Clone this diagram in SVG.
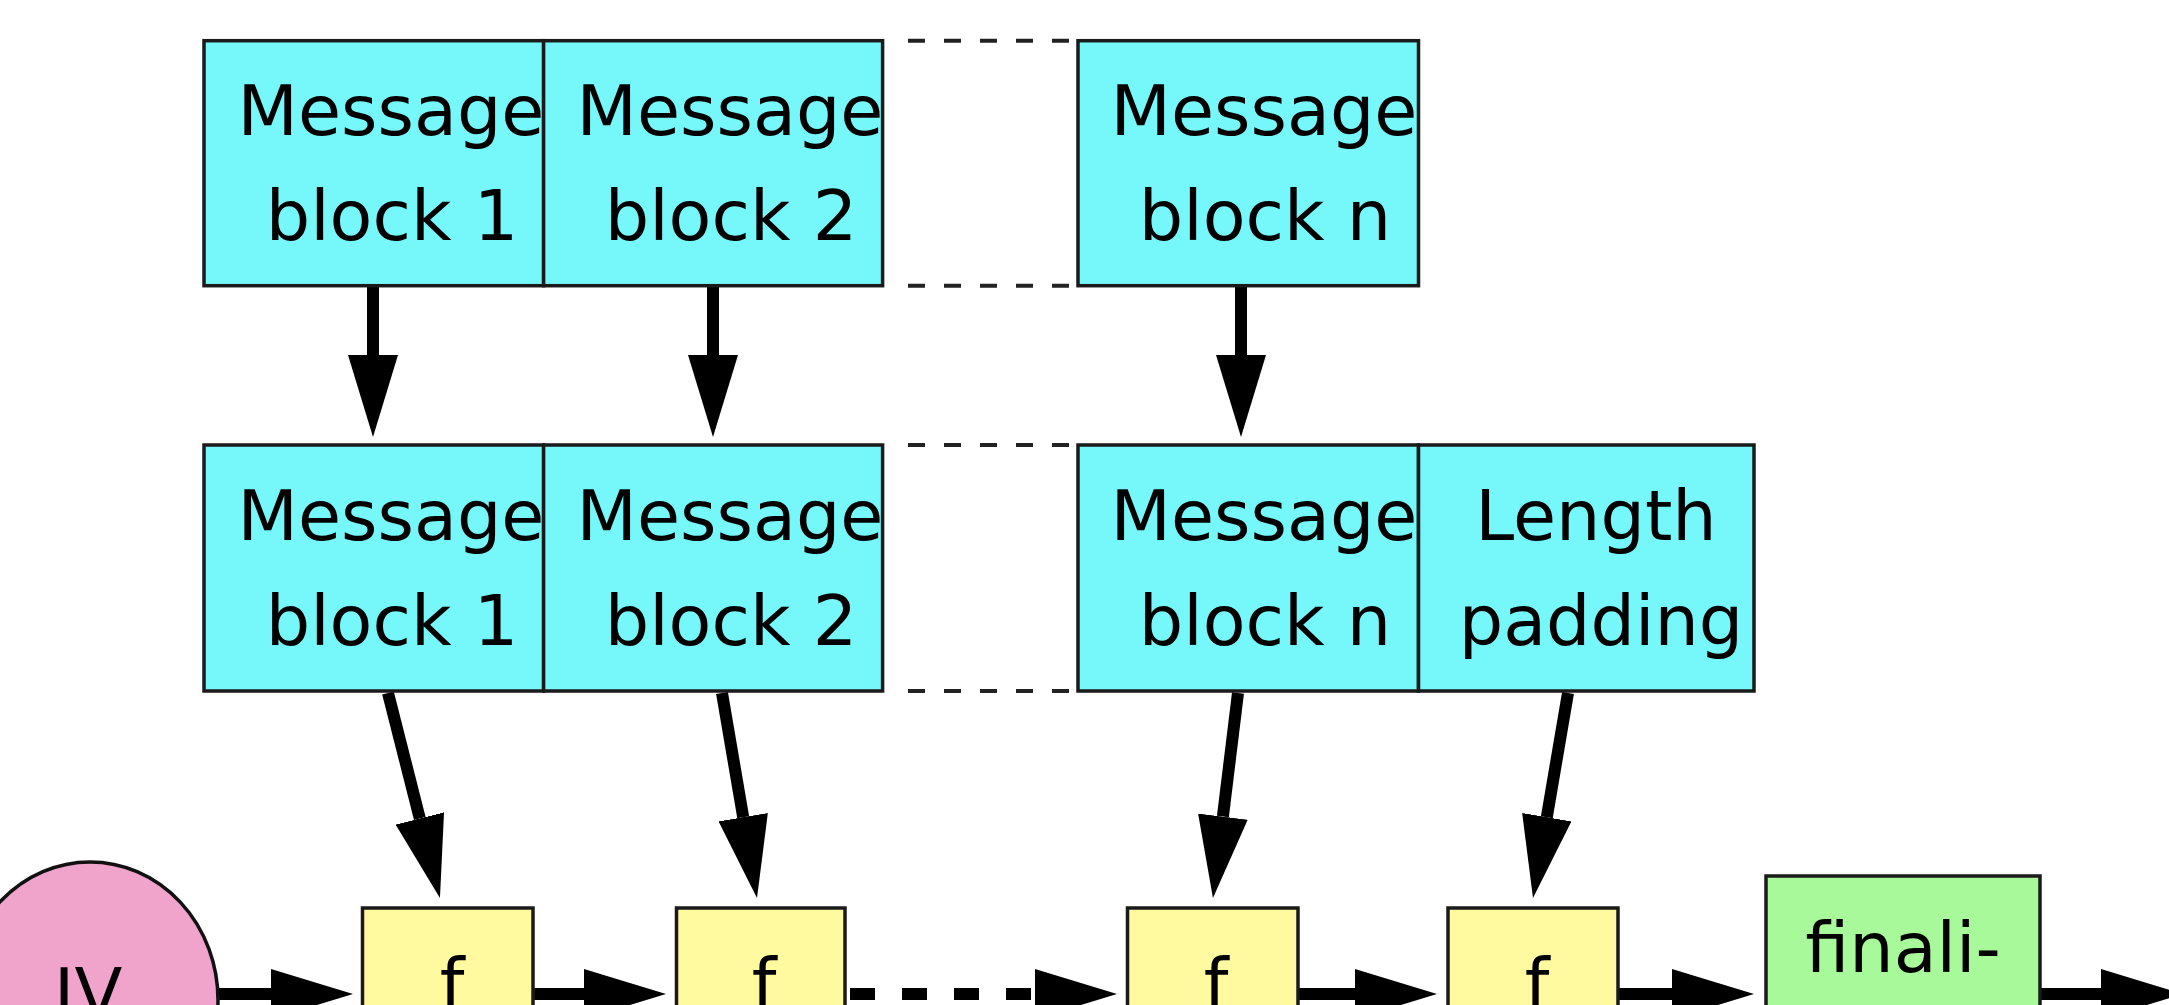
<svg xmlns="http://www.w3.org/2000/svg" width="2169" height="1005" viewBox="0 0 2169 1005">
<style>
.blk{fill:#76f8fb;stroke:#1a1a1a;stroke-width:3.5}
.fbox{fill:#fff9a0;stroke:#1a1a1a;stroke-width:3.5}
.fin{fill:#a8f99a;stroke:#1a1a1a;stroke-width:3.5}
.iv{fill:#f0a3cb;stroke:#111;stroke-width:3.5}
.t{font-family:"DejaVu Sans","Liberation Sans",sans-serif;font-size:70px;fill:#000;text-anchor:middle}
.arr{stroke:#000;stroke-width:12;fill:none;marker-end:url(#ah)}
.dsh{stroke:#222;stroke-width:4;stroke-dasharray:17 19;fill:none}
</style>
<defs>
<marker id="ah" markerUnits="userSpaceOnUse" viewBox="0 0 82 50" markerWidth="82" markerHeight="50" refX="0" refY="25" orient="auto">
<path d="M0,0 L82,25 L0,50 z" fill="#000"/>
</marker>
</defs>
<rect width="2169" height="1005" fill="#fff"/>

<g id="connectors">
<line class="arr" x1="373" y1="286" x2="373" y2="355"/>
<line class="arr" x1="713" y1="286" x2="713" y2="355"/>
<line class="arr" x1="1241" y1="286" x2="1241" y2="355"/>
<line class="arr" x1="388" y1="693" x2="419.8" y2="818.5"/>
<line class="arr" x1="722" y1="693" x2="743.2" y2="817.2"/>
<line class="arr" x1="1238" y1="693" x2="1222.9" y2="816.6"/>
<line class="arr" x1="1568" y1="693" x2="1546.8" y2="817.2"/>
<line class="arr" x1="218" y1="994" x2="271" y2="994"/>
<line class="arr" x1="533" y1="994" x2="584" y2="994"/>
<line x1="850" y1="994" x2="1035" y2="994" stroke="#000" stroke-width="12" stroke-dasharray="25 27"/>
<path d="M1035,969 L1117,994 L1035,1019 z" fill="#000"/>
<line class="arr" x1="1298" y1="994" x2="1355" y2="994"/>
<line class="arr" x1="1618" y1="994" x2="1672" y2="994"/>
<line class="arr" x1="2040" y1="994" x2="2101" y2="994"/>
<line class="dsh" x1="908" y1="40.7" x2="1069" y2="40.7"/>
<line class="dsh" x1="908" y1="285.7" x2="1069" y2="285.7"/>
<line class="dsh" x1="908" y1="445" x2="1069" y2="445"/>
<line class="dsh" x1="908" y1="691" x2="1069" y2="691"/>
</g>

<g id="top-block-1"><rect class="blk" x="204" y="40.7" width="339.6" height="245"/><text class="t" x="391" y="135">Message</text><text class="t" x="392" y="240">block 1</text></g>
<g id="top-block-2"><rect class="blk" x="543.6" y="40.7" width="339" height="245"/><text class="t" x="730" y="135">Message</text><text class="t" x="731" y="240">block 2</text></g>
<g id="top-block-n"><rect class="blk" x="1078" y="40.7" width="340.5" height="245"/><text class="t" x="1264" y="135">Message</text><text class="t" x="1265" y="240">block n</text></g>

<g id="pad-block-1"><rect class="blk" x="204" y="445" width="339.6" height="246"/><text class="t" x="391" y="540">Message</text><text class="t" x="392" y="645">block 1</text></g>
<g id="pad-block-2"><rect class="blk" x="543.6" y="445" width="339" height="246"/><text class="t" x="730" y="540">Message</text><text class="t" x="731" y="645">block 2</text></g>
<g id="pad-block-n"><rect class="blk" x="1078" y="445" width="340.5" height="246"/><text class="t" x="1264" y="540">Message</text><text class="t" x="1265" y="645">block n</text></g>
<g id="length-padding"><rect class="blk" x="1418.5" y="445" width="335.5" height="246"/><text class="t" x="1596" y="540">Length</text><text class="t" x="1601" y="645">padding</text></g>

<g id="iv"><ellipse class="iv" cx="90" cy="1000" rx="128" ry="138"/><text class="t" x="88" y="1018">IV</text></g>
<g id="f1"><rect class="fbox" x="362.5" y="908" width="170.5" height="120"/><text class="t" x="452" y="1008">f</text></g>
<g id="f2"><rect class="fbox" x="676.5" y="908" width="168.5" height="120"/><text class="t" x="764" y="1008">f</text></g>
<g id="f3"><rect class="fbox" x="1127.5" y="908" width="170.5" height="120"/><text class="t" x="1216" y="1008">f</text></g>
<g id="f4"><rect class="fbox" x="1448" y="908" width="170" height="120"/><text class="t" x="1537" y="1008">f</text></g>
<g id="finalisation"><rect class="fin" x="1766" y="876" width="274" height="160"/><text class="t" x="1903" y="972">&#xFB01;nali-</text></g>
</svg>
